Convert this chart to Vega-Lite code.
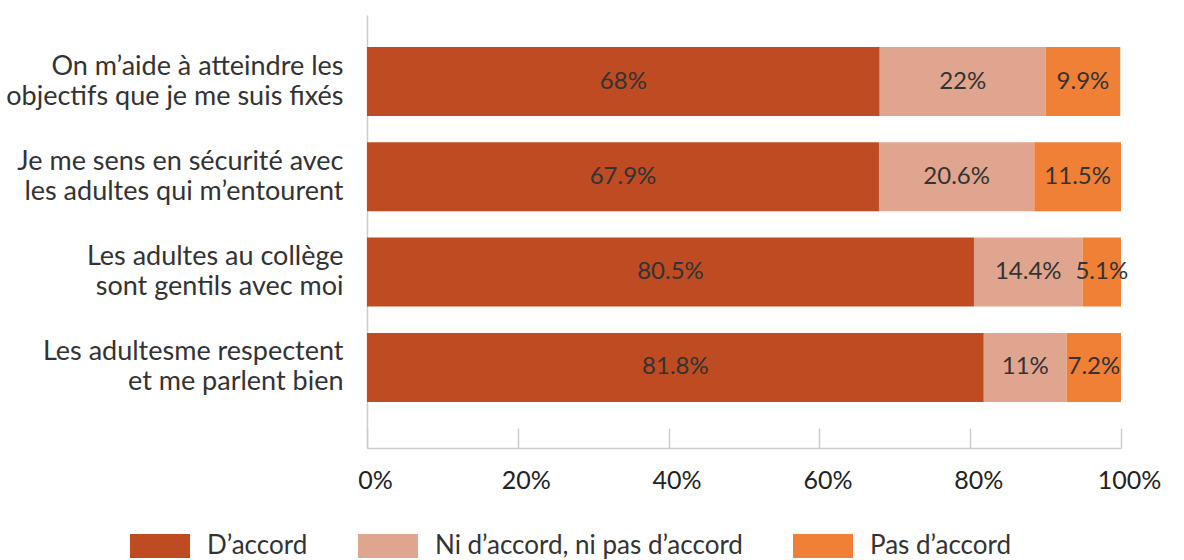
{
  "$schema": "https://vega.github.io/schema/vega-lite/v6.json",
  "width": 754,
  "height": 433,
  "autosize": "none",
  "padding": {"left": 367, "top": 15, "right": 63, "bottom": 112},
  "background": "white",
  "config": {
    "font": "Lato",
    "view": {"stroke": null}
  },
  "data": {
    "values": [
      {"category": "On m’aide à atteindre les|objectifs que je me suis fixés", "response": "D’accord", "order": 1, "value": 68, "label": "68%"},
      {"category": "On m’aide à atteindre les|objectifs que je me suis fixés", "response": "Ni d’accord, ni pas d’accord", "order": 2, "value": 22, "label": "22%"},
      {"category": "On m’aide à atteindre les|objectifs que je me suis fixés", "response": "Pas d’accord", "order": 3, "value": 9.9, "label": "9.9%"},
      {"category": "Je me sens en sécurité avec|les adultes qui m’entourent", "response": "D’accord", "order": 1, "value": 67.9, "label": "67.9%"},
      {"category": "Je me sens en sécurité avec|les adultes qui m’entourent", "response": "Ni d’accord, ni pas d’accord", "order": 2, "value": 20.6, "label": "20.6%"},
      {"category": "Je me sens en sécurité avec|les adultes qui m’entourent", "response": "Pas d’accord", "order": 3, "value": 11.5, "label": "11.5%"},
      {"category": "Les adultes au collège |sont gentils avec moi", "response": "D’accord", "order": 1, "value": 80.5, "label": "80.5%"},
      {"category": "Les adultes au collège |sont gentils avec moi", "response": "Ni d’accord, ni pas d’accord", "order": 2, "value": 14.4, "label": "14.4%"},
      {"category": "Les adultes au collège |sont gentils avec moi", "response": "Pas d’accord", "order": 3, "value": 5.1, "label": "5.1%"},
      {"category": "Les adultesme respectent |et me parlent bien", "response": "D’accord", "order": 1, "value": 81.8, "label": "81.8%"},
      {"category": "Les adultesme respectent |et me parlent bien", "response": "Ni d’accord, ni pas d’accord", "order": 2, "value": 11, "label": "11%"},
      {"category": "Les adultesme respectent |et me parlent bien", "response": "Pas d’accord", "order": 3, "value": 7.2, "label": "7.2%"}
    ]
  },
  "transform": [
    {"stack": "value", "groupby": ["category"], "sort": [{"field": "order", "order": "ascending"}], "as": ["v0", "v1"]},
    {"calculate": "(datum.v0 + datum.v1) / 2", "as": "mid"}
  ],
  "encoding": {
    "y": {
      "field": "category",
      "type": "nominal",
      "sort": null,
      "title": null,
      "scale": {"paddingInner": 0.276, "paddingOuter": 0.41, "align": 0.41},
      "axis": {
        "labelExpr": "split(datum.label, '|')",
        "labelFontSize": 27,
        "labelLineHeight": 30,
        "labelColor": "#333333",
        "labelPadding": 24,
        "labelAlign": "right",
        "labelOffset": -15,
        "labelLimit": 400,
        "ticks": false,
        "domainColor": "#cccccc",
        "domainWidth": 1.5
      }
    }
  },
  "layer": [
    {
      "mark": {"type": "bar"},
      "encoding": {
        "x": {
          "field": "v0",
          "type": "quantitative",
          "title": null,
          "scale": {"domain": [0, 100], "nice": false},
          "axis": {
            "values": [0, 20, 40, 60, 80, 100],
            "labelExpr": "datum.value + '%'",
            "labelFontSize": 25,
            "labelColor": "#222222",
            "labelPadding": 40,
            "labelOffset": 8,
            "tickSize": -20,
            "tickColor": "#cccccc",
            "tickWidth": 1.5,
            "domainColor": "#cccccc",
            "domainWidth": 1.5,
            "grid": false,
            "labelFlush": false
          }
        },
        "x2": {"field": "v1"},
        "color": {
          "field": "response",
          "type": "nominal",
          "sort": ["D’accord", "Ni d’accord, ni pas d’accord", "Pas d’accord"],
          "scale": {
            "domain": ["D’accord", "Ni d’accord, ni pas d’accord", "Pas d’accord"],
            "range": ["#BE4B22", "#E0A58F", "#EF8036"]
          },
          "legend": {
            "title": null,
            "orient": "none",
            "direction": "horizontal",
            "legendX": -237,
            "legendY": 501,
            "symbolType": "M-1,-0.4H1V0.4H-1Z",
            "symbolSize": 3600,
            "symbolStrokeWidth": 0,
            "symbolOpacity": 1,
            "labelFontSize": 26,
            "labelColor": "#333333",
            "labelOffset": 17,
            "columnPadding": 50,
            "labelLimit": 400
          }
        }
      }
    },
    {
      "mark": {"type": "text", "fontSize": 24, "color": "#333333", "align": "center", "baseline": "middle"},
      "encoding": {
        "x": {"field": "mid", "type": "quantitative"},
        "text": {"field": "label", "type": "nominal"}
      }
    }
  ]
}
